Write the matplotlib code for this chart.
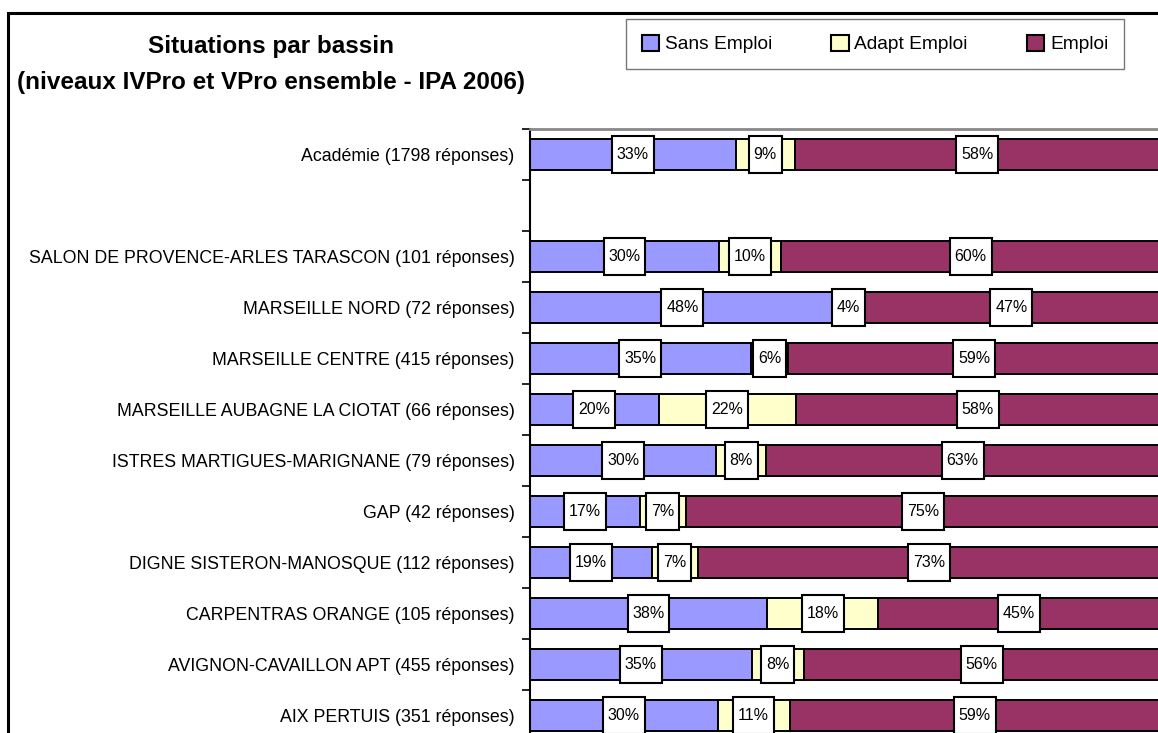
import numpy as np
import matplotlib
matplotlib.use("Agg")
import matplotlib.pyplot as plt
from matplotlib.patches import Rectangle, Patch
from matplotlib.path import Path

plt.rcParams['font.family'] = ['Liberation Sans', 'DejaVu Sans']

# categories, top to bottom ('' = empty spacer row)
categories = [
    "Académie (1798 réponses)",
    "",
    "SALON DE PROVENCE-ARLES TARASCON (101 réponses)",
    "MARSEILLE NORD (72 réponses)",
    "MARSEILLE CENTRE (415 réponses)",
    "MARSEILLE AUBAGNE LA CIOTAT (66 réponses)",
    "ISTRES MARTIGUES-MARIGNANE (79 réponses)",
    "GAP (42 réponses)",
    "DIGNE SISTERON-MANOSQUE (112 réponses)",
    "CARPENTRAS ORANGE (105 réponses)",
    "AVIGNON-CAVAILLON APT (455 réponses)",
    "AIX PERTUIS (351 réponses)",
]
sans_emploi = [32.7, None, 30.0, 48.4, 35.0, 20.4, 29.6, 17.4, 19.4, 37.6, 35.2, 29.8]
adapt_emploi = [9.3, None, 9.9, 4.4, 6.0, 21.8, 7.8, 7.3, 7.2, 17.7, 8.3, 11.4]
emploi = [58.0, None, 60.1, 47.2, 59.0, 57.8, 62.6, 75.3, 73.4, 44.7, 56.4, 58.8]

series_names = ["Sans Emploi", "Adapt Emploi", "Emploi"]
colors = ["#9999FF", "#FFFFCC", "#993366"]


def tall_box(x0, y0, width, height, mutation_size):
    # label box with small side padding and tall vertical padding
    px = 0.3 * mutation_size
    py = 0.68 * mutation_size
    return Path([(x0 - px, y0 - py), (x0 + width + px, y0 - py),
                 (x0 + width + px, y0 + height + py), (x0 - px, y0 + height + py),
                 (x0 - px, y0 - py)], closed=True)


W, H = 1158, 733
fig = plt.figure(figsize=(W / 100, H / 100), dpi=100)

# outer chart border (right and bottom are cropped in the original)
fig.patches.append(Rectangle((8 / W, -0.1), 1.2, (H - 13) / H + 0.1, transform=fig.transFigure,
                             fill=False, edgecolor='black', linewidth=2.2, zorder=0))

ax = fig.add_axes([530 / W, (H - 741) / H, 630 / W, 612 / H])

y = np.arange(len(categories))
data = [sans_emploi, adapt_emploi, emploi]
left = np.zeros(len(categories))
for vals, col in zip(data, colors):
    for i, v in enumerate(vals):
        if v is None:
            continue
        ax.barh(y[i], v, left=left[i], height=0.62, color=col, edgecolor='black', linewidth=1.4)
        ax.text(left[i] + v / 2, y[i], f"{round(v):d}%", ha='center', va='center', fontsize=11.5,
                bbox=dict(boxstyle=tall_box, facecolor='white', edgecolor='black', linewidth=1.5))
        left[i] += v

ax.set_xlim(0, 100)
ax.set_ylim(len(categories) - 0.5, -0.5)
ax.set_xticks([])
ax.set_yticks(y)
ax.set_yticklabels(categories, fontsize=12.8)
ax.tick_params(axis='y', which='major', length=0, pad=11)
ax.set_yticks(np.arange(len(categories) + 1) - 0.5, minor=True)
ax.tick_params(axis='y', which='minor', length=6, width=1.2, direction='out')
for s in ['right', 'bottom']:
    ax.spines[s].set_visible(False)
ax.spines['left'].set_linewidth(1.5)
ax.spines['top'].set_color('#888888')
ax.spines['top'].set_linewidth(2)

fig.text(271 / W, 1 - 47 / H, "Situations par bassin", ha='center', va='center',
         fontsize=17.5, fontweight='bold')
fig.text(271 / W, 1 - 82 / H, "(niveaux IVPro et VPro ensemble - IPA 2006)", ha='center', va='center',
         fontsize=17.5, fontweight='bold')

handles = [Patch(facecolor=c, edgecolor='black', linewidth=1.5) for c in colors]
fig.legend(handles, series_names, loc='center', bbox_to_anchor=(875 / W, 1 - 44 / H), ncol=3,
           fontsize=13.8, frameon=True, fancybox=False, edgecolor='#555555', handlelength=0.9,
           handleheight=0.9, handletextpad=0.3, columnspacing=3.1, borderpad=0.8,
           borderaxespad=0)

fig.savefig("out.png", dpi=100)
